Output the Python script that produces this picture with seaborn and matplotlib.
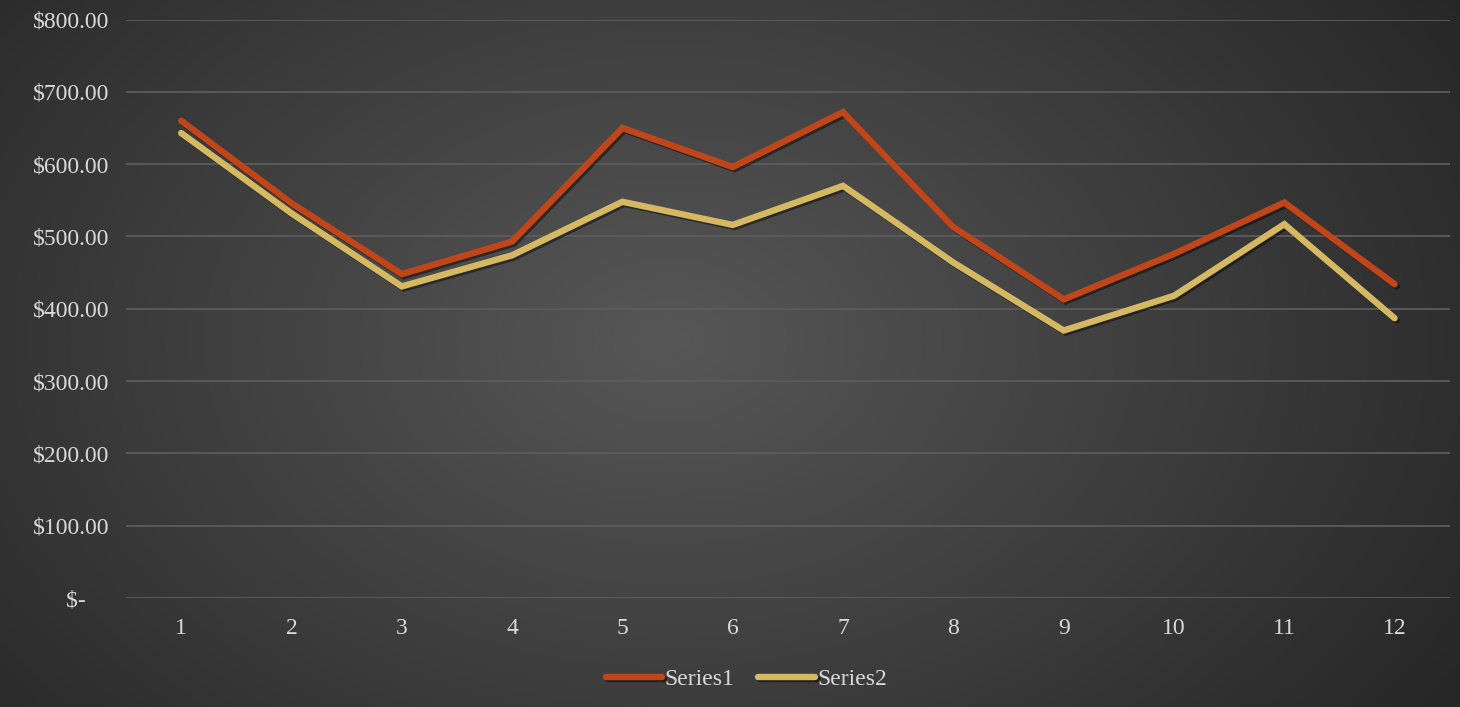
import numpy as np
import pandas as pd
import matplotlib
matplotlib.use("Agg")
import matplotlib.pyplot as plt
import matplotlib.patheffects as pe
from matplotlib.ticker import FuncFormatter
import seaborn as sns

months = list(range(1, 13))
series1 = [660, 546, 448, 493, 650, 596, 672, 513, 413, 476, 547, 434]
series2 = [643, 532, 431, 474, 548, 516, 570, 464, 370, 418, 517, 387]
series_names = ["Series1", "Series2"]
y_ticks = [0, 100, 200, 300, 400, 500, 600, 700, 800]

df = pd.DataFrame({
    "month": months * 2,
    "value": series1 + series2,
    "series": [series_names[0]] * 12 + [series_names[1]] * 12,
})

sns.set_style("dark")
plt.rcParams["font.family"] = ["Liberation Serif", "DejaVu Serif"]
text_color = "#d9d9d9"
fs = 17

fig = plt.figure(figsize=(14.6, 7.07), dpi=100)

# radial dark-gray background
bg = fig.add_axes([0, 0, 1, 1], zorder=-10)
yy, xx = np.mgrid[0:707, 0:1460]
cx, cy = 670, 340
r = np.sqrt(((xx - cx) / 1000.0) ** 2 + ((yy - cy) / 700.0) ** 2)
r = np.clip(r / 0.95, 0, 1)
inner = np.array([0x57, 0x57, 0x57]) / 255.0
outer = np.array([0x26, 0x26, 0x26]) / 255.0
img = inner[None, None, :] * (1 - r[..., None]) + outer[None, None, :] * r[..., None]
bg.imshow(img, aspect="auto", extent=[0, 1, 0, 1], origin="upper")
bg.axis("off")

ax = fig.add_axes([0.0863, 0.154, 0.9067, 0.8184])
ax.patch.set_alpha(0)

palette = {"Series1": "#C0461A", "Series2": "#D4B962"}
sns.lineplot(data=df, x="month", y="value", hue="series", palette=palette,
             linewidth=4.6, ax=ax, legend=True)

shadow = [pe.SimpleLineShadow(offset=(1.5, -1.5), shadow_color="black", alpha=0.45),
          pe.Normal()]
for line in ax.get_lines():
    line.set_solid_capstyle("round")
    line.set_solid_joinstyle("miter")
    line.set_path_effects(shadow)

ax.set_xlim(0.5, 12.5)
ax.set_ylim(0, 800)
ax.set_xticks(months)
ax.set_yticks(y_ticks)
ax.yaxis.set_major_formatter(FuncFormatter(
    lambda v, p: "$-    " if v == 0 else f"${v:,.2f}"))
ax.grid(axis="y", color="#5c5c5c", linewidth=1.3)
ax.grid(axis="x", visible=False)
ax.set_axisbelow(True)
for s in ax.spines.values():
    s.set_visible(False)
ax.tick_params(axis="both", length=0, colors=text_color, labelsize=fs)
ax.tick_params(axis="y", pad=12)
ax.tick_params(axis="x", pad=14)
ax.set_xlabel("")
ax.set_ylabel("")

handles, labels = ax.get_legend_handles_labels()
leg = ax.legend(handles, labels, loc="center", bbox_to_anchor=(0.4685, -0.141),
                ncol=2, frameon=False, fontsize=fs, handlelength=2.4,
                handletextpad=0.1, columnspacing=1.0, labelcolor=text_color)
for h in leg.get_lines():
    h.set_linewidth(4.6)
    h.set_solid_capstyle("round")

fig.savefig("out.png", dpi=100)
